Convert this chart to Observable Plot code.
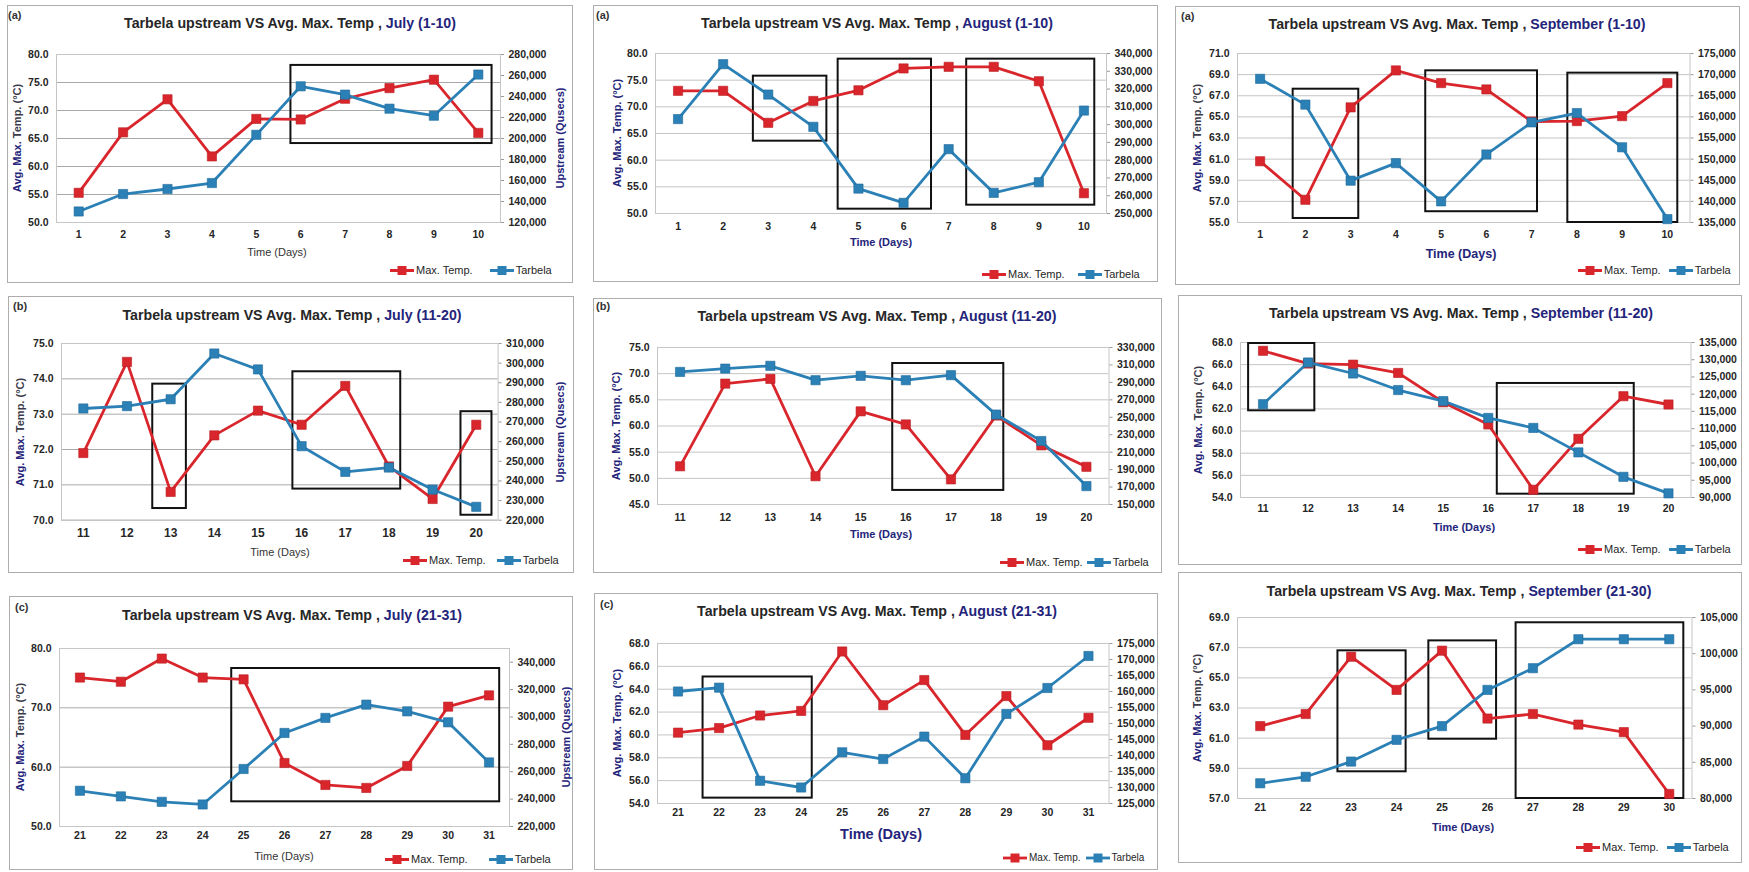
<!DOCTYPE html>
<html><head><meta charset="utf-8">
<script src="https://cdn.jsdelivr.net/npm/d3@7"></script>
<script src="https://cdn.jsdelivr.net/npm/@observablehq/plot@0.6"></script>
<style>
body{margin:0;background:#fff;font-family:"Liberation Sans",Arial,sans-serif;}
#page{position:relative;width:1749px;height:872px;overflow:hidden;background:#fff;}
.frame{position:absolute;border:1px solid #adadad;box-sizing:border-box;}
.abs{position:absolute;white-space:nowrap;line-height:1;}
.title{font-weight:bold;font-size:14.2px;color:#262626;transform:translate(-50%,-50%);}
.title span{color:#24247a;}
.tag{font-size:11px;font-weight:bold;color:#333;transform:translateY(-50%);}
.ylab{font-size:11px;font-weight:bold;color:#24247a;transform:translate(-50%,-50%) rotate(-90deg);}
.ylab .dk{color:#3a3a4a;}
.xlab{transform:translate(-50%,-50%);}
.legend{display:flex;align-items:center;transform:translateY(-50%);color:#262626;}
.legend .item{display:flex;align-items:center;}
.legend svg{display:block;margin-right:2px;}
.plotwrap{position:absolute;}
.plotwrap svg{display:block;max-width:none;}
</style></head><body><div id="page"></div><script>
// ---------------- DATA ----------------
const daysA = [1,2,3,4,5,6,7,8,9,10];
const daysB = [11,12,13,14,15,16,17,18,19,20];
const daysC31 = [21,22,23,24,25,26,27,28,29,30,31];
const daysC30 = [21,22,23,24,25,26,27,28,29,30];

// July
const tempJul1 = [55.3,66.1,72.0,61.8,68.5,68.4,72.1,74.0,75.5,66.0];
const flowJul1 = [130500,147100,151900,157600,203500,249700,241800,228400,221700,260900];
const tempJul2 = [71.9,74.48,70.8,72.4,73.1,72.7,73.8,71.52,70.6,72.7];
const flowJul2 = [276900,278100,281600,304900,296800,257700,244600,246800,235600,226800];
const tempJul3 = [75.1,74.4,78.3,75.1,74.8,60.7,57.0,56.5,60.2,70.2,72.1];
const flowJul3 = [246100,242000,238000,236100,262000,288300,299300,309000,304100,296100,266800];
// August
const tempAug1 = [73.0,73.0,67.0,71.1,73.1,77.2,77.5,77.5,74.8,53.8];
const flowAug1 = [303100,334000,316900,298750,264000,256000,286200,261600,267600,307900];
const tempAug2 = [52.3,68.1,69.0,50.4,62.8,60.3,49.8,62.0,56.3,52.2];
const flowAug2 = [302000,305800,309000,292500,297500,292500,298300,253100,222800,171100];
const tempAug3 = [60.2,60.6,61.7,62.1,67.3,62.6,64.8,60.0,63.4,59.1,61.5];
const flowAug3 = [160000,161200,132100,130000,141000,138900,145900,132900,153000,161100,171100];
// September
const tempSep1 = [60.8,57.15,65.9,69.4,68.2,67.6,64.56,64.6,65.07,68.2];
const flowSep1 = [169000,162900,144900,149050,140000,151100,158700,160900,152800,135800];
const tempSep2 = [67.25,66.1,66.0,65.25,62.6,60.6,54.7,59.3,63.15,62.4];
const flowSep2 = [117100,129200,126000,121200,118000,113100,110200,103100,96000,91200];
const tempSep3 = [61.8,62.6,66.4,64.2,66.8,62.3,62.6,61.9,61.4,57.3];
const flowSep3 = [82100,83000,85100,88100,90000,95000,98000,102000,102000,102000];

// Axis tick values (left: temperature, right: upstream flow)
const tTicksJul1 = [50,55,60,65,70,75,80];
const qTicksJul1 = [120000,140000,160000,180000,200000,220000,240000,260000,280000];
const tTicksJul2 = [70,71,72,73,74,75];
const qTicksJul2 = [220000,230000,240000,250000,260000,270000,280000,290000,300000,310000];
const tTicksJul3 = [50,60,70,80];
const qTicksJul3 = [220000,240000,260000,280000,300000,320000,340000];
const qDomJul3 = [220000,350000];
const tTicksAug1 = [50,55,60,65,70,75,80];
const qTicksAug1 = [250000,260000,270000,280000,290000,300000,310000,320000,330000,340000];
const tTicksAug2 = [45,50,55,60,65,70,75];
const qTicksAug2 = [150000,170000,190000,210000,230000,250000,270000,290000,310000,330000];
const tTicksAug3 = [54,56,58,60,62,64,66,68];
const qTicksAug3 = [125000,130000,135000,140000,145000,150000,155000,160000,165000,170000,175000];
const tTicksSep1 = [55,57,59,61,63,65,67,69,71];
const qTicksSep1 = [135000,140000,145000,150000,155000,160000,165000,170000,175000];
const tTicksSep2 = [54,56,58,60,62,64,66,68];
const qTicksSep2 = [90000,95000,100000,105000,110000,115000,120000,125000,130000,135000];
const tTicksSep3 = [57,59,61,63,65,67,69];
const qTicksSep3 = [80000,85000,90000,95000,100000,105000];

// Highlight windows: [day from, day to, temp low, temp high]
const boxJul1 = [[5.78,10.31,64.1,78.05]];
const boxJul2 = [[12.59,13.36,70.33,73.85],[15.80,18.27,70.88,74.20],[19.65,20.36,70.14,73.07]];
const boxJul3 = [[24.71,31.26,54.16,76.63]];
const boxAug1 = [[2.67,4.30,63.56,75.75],[4.55,6.62,50.81,78.94],[7.40,10.24,51.56,78.94]];
const boxAug2 = [[15.71,18.17,47.69,71.94]];
const boxAug3 = [[21.61,24.27,54.47,65.07]];
const boxSep1 = [[1.73,3.18,55.38,67.62],[4.66,7.13,56.02,69.36],[7.80,10.23,55.0,69.14]];
const boxSep2 = [[10.68,12.15,61.83,67.91],[16.20,19.24,54.30,64.30]];
const boxSep3 = [[22.71,24.21,58.77,66.79],[24.71,26.20,60.93,67.45],[26.63,30.32,57.0,68.65]];

const seriesNames = ["Max. Temp.","Tarbela"];
const titleMain = "Tarbela upstream VS Avg. Max. Temp , ";

// ---------------- STYLE / LAYOUT ----------------
const RED = "#d9262c", BLUE = "#2b80b6", NAVY = "#24247a";
const FONT = '"Liberation Sans", Arial, sans-serif';

const panels = [
 {month:"July (1-10)", days:daysA, temp:tempJul1, flow:flowJul1, tT:tTicksJul1, qT:qTicksJul1, boxes:boxJul1,
  L:{frame:[7,5,573,283], plot:[55.5,54,499.5,222], tag:"(a)", tagPos:[8,15], title:[290,23],
     xlab:{x:277,y:252,kind:"plain",fs:11}, legend:{x:390,y:270,gap:17,fs:11}, ylab:{x:17,mixed:true}, rlab:560, xpad:8, grid:"#a9a9a9"}},
 {month:"August (1-10)", days:daysA, temp:tempAug1, flow:flowAug1, tT:tTicksAug1, qT:qTicksAug1, boxes:boxAug1,
  L:{frame:[593,5,1158,282], plot:[655,53,1106,213], tag:"(a)", tagPos:[596,15], title:[877,23],
     xlab:{x:881,y:242,kind:"navy",fs:11}, legend:{x:982,y:274,gap:13,fs:11}, ylab:{x:617,mixed:false}, xpad:9, grid:"#c4c4c4"}},
 {month:"September (1-10)", days:daysA, temp:tempSep1, flow:flowSep1, tT:tTicksSep1, qT:qTicksSep1, boxes:boxSep1,
  L:{frame:[1175,6,1740,285], plot:[1236.5,53,1689,222], tag:"(a)", tagPos:[1181,16], title:[1457,24],
     xlab:{x:1461,y:254,kind:"navy",fs:12.5}, legend:{x:1578,y:270,gap:8,fs:11}, ylab:{x:1197,mixed:true}, xpad:8, grid:"#c4c4c4"}},
 {month:"July (11-20)", days:daysB, temp:tempJul2, flow:flowJul2, tT:tTicksJul2, qT:qTicksJul2, boxes:boxJul2,
  L:{frame:[8,296,574,573], plot:[61,343.3,497.6,520], tag:"(b)", tagPos:[13,306], title:[292,315],
     xlab:{x:280,y:552,kind:"plain",fs:11}, legend:{x:403,y:560,gap:11,fs:11}, ylab:{x:20,mixed:true}, rlab:560, xpad:8, xfs:12, grid:"#a9a9a9"}},
 {month:"August (11-20)", days:daysB, temp:tempAug2, flow:flowAug2, tT:tTicksAug2, qT:qTicksAug2, boxes:boxAug2,
  L:{frame:[593,298,1162,573], plot:[656.5,347,1108,504], tag:"(b)", tagPos:[596,306], title:[877,316],
     xlab:{x:881,y:534,kind:"navy",fs:11}, legend:{x:1000,y:562,gap:4,fs:11}, ylab:{x:616,mixed:false}, xpad:9, grid:"#c4c4c4"}},
 {month:"September (11-20)", days:daysB, temp:tempSep2, flow:flowSep2, tT:tTicksSep2, qT:qTicksSep2, boxes:boxSep2,
  L:{frame:[1178,295,1742,565], plot:[1239.5,342,1690,497], tag:null, title:[1461,313],
     xlab:{x:1464,y:527,kind:"navy",fs:11}, legend:{x:1578,y:549,gap:8,fs:11}, ylab:{x:1198,mixed:true}, xpad:7, grid:"#c4c4c4"}},
 {month:"July (21-31)", days:daysC31, temp:tempJul3, flow:flowJul3, tT:tTicksJul3, qT:qTicksJul3, qDom:qDomJul3, boxes:boxJul3,
  L:{frame:[9,596,573,870], plot:[59,648,509,826], tag:"(c)", tagPos:[15,607], title:[292,615],
     xlab:{x:284,y:856,kind:"plain",fs:11}, legend:{x:385,y:859,gap:21,fs:11}, ylab:{x:20,mixed:true}, rlab:566, xpad:5, grid:"#a9a9a9"}},
 {month:"August (21-31)", days:daysC31, temp:tempAug3, flow:flowAug3, tT:tTicksAug3, qT:qTicksAug3, boxes:boxAug3,
  L:{frame:[594,593,1158,870], plot:[656.5,643,1108,803], tag:"(c)", tagPos:[600,604], title:[877,611],
     xlab:{x:881,y:834,kind:"navy",fs:14.5}, legend:{x:1003,y:858,gap:5,fs:10}, ylab:{x:617,mixed:false}, xpad:5, grid:"#c4c4c4"}},
 {month:"September (21-30)", days:daysC30, temp:tempSep3, flow:flowSep3, tT:tTicksSep3, qT:qTicksSep3, boxes:boxSep3,
  L:{frame:[1178,572,1742,863], plot:[1236.5,617,1691,798], tag:null, title:[1459,591],
     xlab:{x:1463,y:827,kind:"navy",fs:11}, legend:{x:1576,y:847,gap:8,fs:11}, ylab:{x:1197,mixed:true}, xpad:5, grid:"#c4c4c4"}}
];

// ---------------- DRAW ----------------
const page = document.getElementById("page");
function el(cls, x, y, html) {
  const d = document.createElement("div");
  d.className = cls;
  d.style.left = x + "px"; d.style.top = y + "px";
  if (html != null) d.innerHTML = html;
  page.appendChild(d);
  return d;
}

function drawPanel(p) {
  const L = p.L;
  const [fx1, fy1, fx2, fy2] = L.frame;
  const fr = el("frame", fx1, fy1);
  fr.style.width = (fx2 - fx1) + "px"; fr.style.height = (fy2 - fy1) + "px";
  if (L.tag) el("abs tag", L.tagPos[0], L.tagPos[1], L.tag);
  el("abs title", L.title[0], L.title[1], titleMain + "<span>" + p.month + "</span>");

  const [pl, pt, pr, pb] = L.plot;
  const mL = 55, mR = 75, mT = 8, mB = 30;
  const W = pr - pl + mL + mR, H = pb - pt + mT + mB;
  const xDom = [p.days[0] - 0.5, p.days[p.days.length - 1] + 0.5];
  const tDom = [p.tT[0], p.tT[p.tT.length - 1]];
  const qDom = p.qDom || [p.qT[0], p.qT[p.qT.length - 1]];
  const tRows = p.days.map((day, i) => ({day, v: p.temp[i]}));
  const qRows = p.days.map((day, i) => ({day, v: p.flow[i]}));
  const bRows = p.boxes.map(b => ({x1: b[0], x2: b[1], y1: b[2], y2: b[3]}));
  const style = {background: "transparent", fontFamily: FONT, fontSize: "10.5px", fontWeight: "bold", color: "#262626", overflow: "visible"};
  const common = {width: W, height: H, marginLeft: mL, marginRight: mR, marginTop: mT, marginBottom: mB, style};

  const plotT = Plot.plot({
    ...common,
    x: {domain: xDom, axis: null},
    y: {domain: tDom, axis: null},
    marks: [
      Plot.gridY(p.tT, {stroke: L.grid, strokeOpacity: 1, strokeWidth: 1}),
      Plot.frame({stroke: "#c6c6c6"}),
      Plot.rect(bRows, {x1: "x1", x2: "x2", y1: "y1", y2: "y2", fill: "none", stroke: "#111", strokeWidth: 2}),
      Plot.axisY(p.tT, {anchor: "left", tickSize: 0, tickPadding: 8, tickFormat: v => v.toFixed(1), label: null, fontSize: 10.5, fontWeight: "bold"}),
      Plot.axisX(p.days, {anchor: "bottom", tickSize: 0, tickPadding: L.xpad, tickFormat: v => String(v), label: null, fontSize: L.xfs || 10.5, fontWeight: "bold"}),
      Plot.line(tRows, {x: "day", y: "v", stroke: RED, strokeWidth: 2.8}),
      Plot.dot(tRows, {x: "day", y: "v", symbol: "square", fill: RED, stroke: "#b81e22", strokeWidth: 0.6, r: 5.2})
    ]
  });
  const plotQ = Plot.plot({
    ...common,
    x: {domain: xDom, axis: null},
    y: {domain: qDom, axis: null},
    marks: [
      Plot.axisY(p.qT, {anchor: "right", tickSize: 3, tickPadding: 5, tickFormat: d3.format(","), label: null, stroke: "#999", fontSize: 10.5, fontWeight: "bold"}),
      Plot.line(qRows, {x: "day", y: "v", stroke: BLUE, strokeWidth: 2.8}),
      Plot.dot(qRows, {x: "day", y: "v", symbol: "square", fill: BLUE, stroke: "#1f6a9a", strokeWidth: 0.6, r: 5.2})
    ]
  });
  for (const svg of [plotT, plotQ]) {
    const w = el("plotwrap", pl - mL, pt - mT);
    w.style.width = W + "px"; w.style.height = H + "px";
    w.appendChild(svg);
  }

  // axis titles
  el("abs ylab", L.ylab.x, (pt + pb) / 2,
    L.ylab.mixed ? 'Avg. Max.<span class="dk"> Temp. (°C)</span>' : "Avg. Max. Temp. (°C)");
  if (L.rlab) el("abs ylab", L.rlab, (pt + pb) / 2, "Upstream (Qusecs)");
  const xl = el("abs xlab", L.xlab.x, L.xlab.y, "Time (Days)");
  xl.style.fontSize = L.xlab.fs + "px";
  if (L.xlab.kind === "navy") { xl.style.color = NAVY; xl.style.fontWeight = "bold"; }
  else { xl.style.color = "#333"; }

  // legend
  const lg = el("abs legend", L.legend.x, L.legend.y);
  lg.style.fontSize = L.legend.fs + "px";
  lg.style.gap = L.legend.gap + "px";
  [[seriesNames[0], RED], [seriesNames[1], BLUE]].forEach(([name, c]) => {
    const it = document.createElement("div");
    it.className = "item";
    it.innerHTML = `<svg width="24" height="10"><line x1="0" y1="5" x2="24" y2="5" stroke="${c}" stroke-width="2.8"/><rect x="7.5" y="0.5" width="9" height="9" fill="${c}"/></svg><span>${name}</span>`;
    lg.appendChild(it);
  });
}

panels.forEach(drawPanel);
</script></body></html>
